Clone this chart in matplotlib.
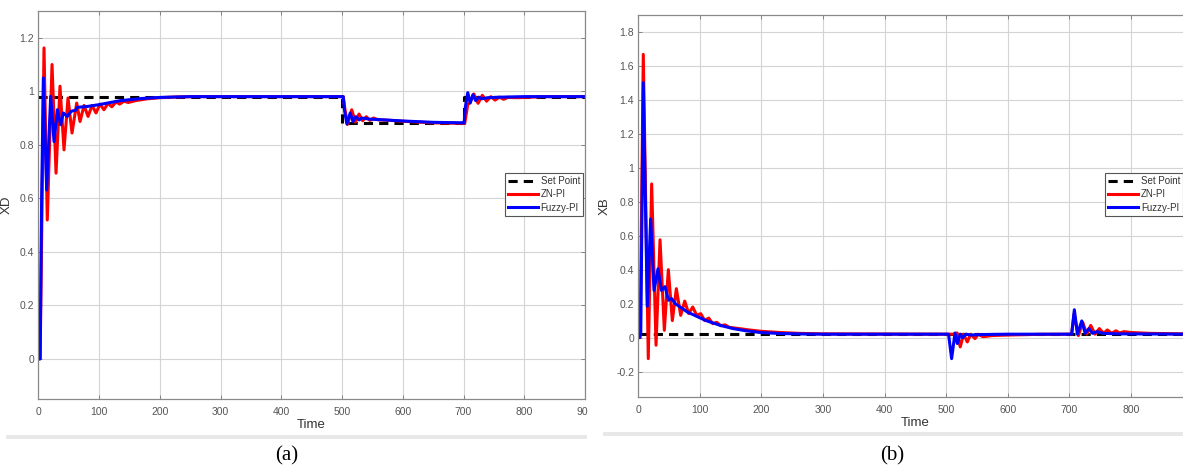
import matplotlib
matplotlib.use("Agg")
import matplotlib.pyplot as plt
from matplotlib.patches import Rectangle
from matplotlib.ticker import FormatStrFormatter

plt.rcParams['font.family'] = ['Liberation Sans', 'DejaVu Sans']

# ---- data ----
# (a) XD
t_sp_a = [0, 500, 500, 700, 700, 900]
sp_a = [0.98, 0.98, 0.88, 0.88, 0.98, 0.98]

t_zn_a = [0, 3, 9.4, 14.8, 22.6, 29.2, 35.7, 42.3, 48.9, 55.5, 63.2, 68.7, 75.3, 81.9,
          88.5, 95, 101.6, 108, 115, 121, 128, 134, 141, 148, 160, 180, 200, 230, 260,
          300, 500, 502, 505, 509, 516, 522, 528, 534, 540, 546, 552, 560, 575, 600,
          650, 700, 702, 707, 711, 717, 724, 731, 738, 745, 752, 759, 766, 773, 790,
          830, 900]
zn_a = [0, 0, 1.162, 0.519, 1.10, 0.694, 1.019, 0.781, 0.975, 0.844, 0.956, 0.887, 0.947,
        0.906, 0.947, 0.919, 0.952, 0.931, 0.955, 0.942, 0.96, 0.952, 0.963, 0.958, 0.965,
        0.972, 0.976, 0.979, 0.98, 0.98, 0.98, 0.98, 0.93, 0.876, 0.931, 0.885, 0.915,
        0.89, 0.905, 0.891, 0.9, 0.893, 0.892, 0.888, 0.882, 0.88, 0.88, 0.95, 0.96, 0.99,
        0.955, 0.985, 0.963, 0.98, 0.967, 0.978, 0.97, 0.977, 0.976, 0.98, 0.98]

t_fz_a = [0, 3, 5.5, 8.3, 13.8, 20.4, 25.9, 31.4, 36.9, 41.2, 47.8, 54, 62, 64, 80, 100,
          135, 170, 200, 250, 300, 500, 502, 504, 508, 513.5, 518, 523, 528, 533, 545,
          570, 600, 650, 700, 701, 703, 707, 711, 715.5, 720, 725, 730, 740, 760, 800, 900]
fz_a = [0, 0, 0.6, 1.05, 0.631, 0.981, 0.812, 0.931, 0.875, 0.919, 0.906, 0.925, 0.93,
        0.94, 0.943, 0.95, 0.965, 0.973, 0.977, 0.98, 0.98, 0.98, 0.98, 0.93, 0.878,
        0.919, 0.887, 0.905, 0.893, 0.9, 0.896, 0.893, 0.889, 0.884, 0.882, 0.882, 0.94,
        0.995, 0.956, 0.987, 0.965, 0.978, 0.972, 0.976, 0.978, 0.98, 0.98]

# (b) XB
t_sp_b = [0, 900]
sp_b = [0.02, 0.02]

t_zn_b = [0, 3, 8.1, 16.2, 21.7, 28.8, 35.3, 42.3, 48.8, 55.3, 61.8, 68.9, 75.4, 81.9,
          88.4, 94.9, 101.4, 107.9, 114.4, 120.9, 127.4, 134, 141, 148, 160, 180, 200,
          230, 260, 300, 500, 512, 518, 523, 528.5, 534.5, 540, 547, 552, 560, 575, 600,
          650, 700, 704, 708, 715, 722, 728.5, 735, 742, 749, 756, 762, 769, 776, 782,
          789, 800, 830, 900]
zn_b = [0, 0, 1.668, -0.124, 0.905, -0.045, 0.576, 0.043, 0.40, 0.10, 0.288, 0.131, 0.215,
        0.141, 0.18, 0.131, 0.141, 0.10, 0.115, 0.082, 0.09, 0.07, 0.075, 0.06, 0.055,
        0.045, 0.037, 0.03, 0.025, 0.022, 0.02, 0.02, 0.027, -0.055, 0.02, -0.026, 0.02,
        -0.006, 0.02, 0.005, 0.012, 0.015, 0.019, 0.02, 0.02, 0.14, 0.012, 0.09, 0.02,
        0.072, 0.02, 0.053, 0.025, 0.045, 0.025, 0.04, 0.027, 0.035, 0.03, 0.025, 0.021]

t_fz_b = [0, 2, 3, 4, 8.1, 14.6, 20.1, 25.5, 32, 37.4, 43.4, 49, 54, 60, 68, 80, 95, 110,
          133, 154, 175, 198, 230, 270, 300, 500, 504, 509, 514.5, 518.3, 523, 527, 532,
          540, 560, 600, 700, 704, 708.4, 713.3, 720.4, 726, 732, 738, 745, 755, 780, 900]
fz_b = [0, 0, 0.02, 0.02, 1.502, 0.184, 0.699, 0.278, 0.405, 0.278, 0.3, 0.22, 0.23, 0.2,
        0.18, 0.15, 0.125, 0.1, 0.072, 0.053, 0.04, 0.03, 0.024, 0.021, 0.02, 0.02, 0.02,
        -0.124, 0.027, -0.035, 0.02, 0.0, 0.02, 0.015, 0.018, 0.02, 0.02, 0.02, 0.164,
        0.02, 0.098, 0.025, 0.053, 0.025, 0.035, 0.025, 0.022, 0.02]

x_ticks_a = list(range(0, 901, 100))
x_ticks_b = list(range(0, 801, 100))
y_ticks_a = [0, 0.2, 0.4, 0.6, 0.8, 1, 1.2]
y_ticks_b = [-0.2, 0, 0.2, 0.4, 0.6, 0.8, 1, 1.2, 1.4, 1.6, 1.8]
labels = ['Set Point', 'ZN-PI', 'Fuzzy-PI']

# ---- figure ----
W, H = 1183, 468
fig = plt.figure(figsize=(W / 100, H / 100), dpi=100)
fig.patch.set_facecolor('white')


def box(l, t, r, b):
    return [l / W, 1 - b / H, (r - l) / W, (b - t) / H]


def draw(ax, t_sp, sp, t_zn, zn, t_fz, fz, ylim, xticks, yticks, ylabel, ylab_x):
    ax.plot(t_sp, sp, color='black', lw=2.2, dashes=(3, 2), label=labels[0])
    ax.plot(t_zn, zn, color='#ff0000', lw=2.2, label=labels[1])
    ax.plot(t_fz, fz, color='#0000ff', lw=2.2, label=labels[2])
    ax.set_xlim(0, 900)
    ax.set_ylim(*ylim)
    ax.set_xticks(xticks)
    ax.set_yticks(yticks)
    ax.yaxis.set_major_formatter(FormatStrFormatter('%g'))
    ax.grid(True, color='#d4d4d4', lw=0.8)
    ax.set_axisbelow(True)
    ax.tick_params(direction='in', length=3, width=0.6, color='#777777',
                   labelcolor='#555555', labelsize=7.5, top=True, right=True)
    ax.tick_params(axis='x', pad=5.5)
    ax.tick_params(axis='y', pad=3)
    for s in ax.spines.values():
        s.set_color('#8a8a8a')
        s.set_linewidth(0.9)
    ax.set_xlabel('Time', fontsize=9.5, color='#333333')
    ax.xaxis.set_label_coords(0.5, -0.052)
    ax.set_ylabel(ylabel, fontsize=9.5, color='#333333')
    ax.yaxis.set_label_coords(ylab_x, 0.5)


ax_a = fig.add_axes(box(38.3, 11, 585, 399))
draw(ax_a, t_sp_a, sp_a, t_zn_a, zn_a, t_fz_a, fz_a, (-0.15, 1.3), x_ticks_a, y_ticks_a,
     'XD', -0.046)

ax_b = fig.add_axes(box(638.3, 15, 1192.3, 397))
draw(ax_b, t_sp_b, sp_b, t_zn_b, zn_b, t_fz_b, fz_b, (-0.35, 1.9), x_ticks_b, y_ticks_b,
     'XB', -0.049)
# grid line at 900 lies past the cropped edge, so no tick there

leg_kw = dict(fontsize=7, handlelength=3.1, handletextpad=0.3, labelspacing=0.35,
              borderpad=0.3, borderaxespad=0, fancybox=False, framealpha=1,
              edgecolor='#555555', labelcolor='#333333')
leg_a = ax_a.legend(loc='upper right', bbox_to_anchor=(0.9963, 0.5825), **leg_kw)
leg_b = ax_b.legend(loc='upper left', bbox_to_anchor=(0.8424, 0.5864), **leg_kw)
for lg in (leg_a, leg_b):
    lg.get_frame().set_linewidth(0.8)

# screenshot edges: crop the right of panel (a) and the light bands under each panel
fig.add_artist(Rectangle((587.5 / W, 0), 12 / W, 70 / H, transform=fig.transFigure,
                         facecolor='white', edgecolor='none', zorder=5))
fig.add_artist(Rectangle((6 / W, 1 - 438.5 / H), 581 / W, 3.5 / H, transform=fig.transFigure,
                         facecolor='#e8e8e8', edgecolor='none', zorder=5))
fig.add_artist(Rectangle((603 / W, 1 - 436 / H), 580 / W, 4.5 / H, transform=fig.transFigure,
                         facecolor='#e8e8e8', edgecolor='none', zorder=5))

fig.text(287 / W, 1 - 456 / H, '(a)', ha='center', va='center', fontsize=15,
         family='Liberation Serif')
fig.text(892 / W, 1 - 456 / H, '(b)', ha='center', va='center', fontsize=15,
         family='Liberation Serif')

fig.savefig('out.png', dpi=100, facecolor='white')
